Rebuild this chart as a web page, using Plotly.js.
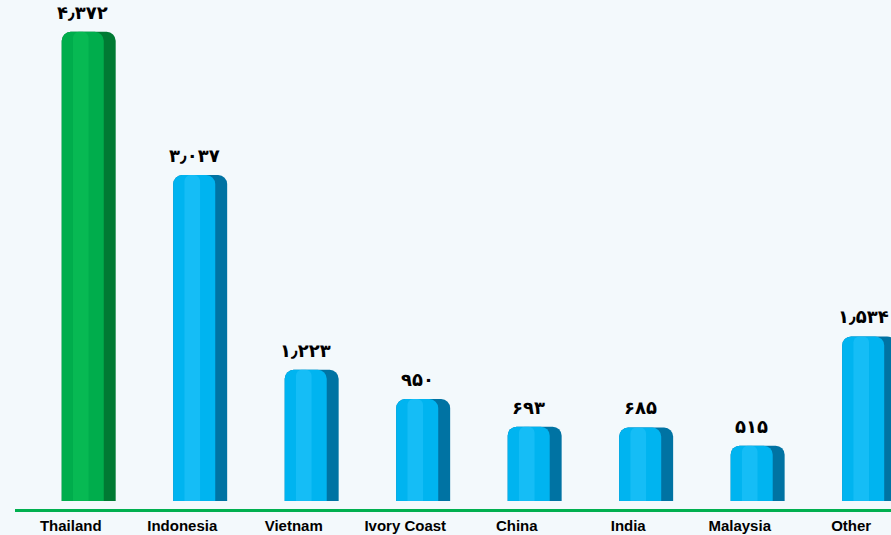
<!DOCTYPE html>
<html>
<head>
<meta charset="utf-8">
<script src="https://cdn.plot.ly/plotly-3.0.1.min.js"></script>
<style>
  html, body { margin: 0; padding: 0; background: #f3f9fc; }
  #chart { width: 891px; height: 535px; }
</style>
</head>
<body>
<div id="chart"></div>
<script>
// Data
const categories = ["Thailand", "Indonesia", "Vietnam", "Ivory Coast", "China", "India", "Malaysia", "Other"];
const values = [4372, 3037, 1223, 950, 693, 685, 515, 1534];
const valueLabels = ["۴٫۳۷۲", "۳٫۰۳۷", "۱٫۲۲۳", "۹۵۰", "۶۹۳", "۶۸۵", "۵۱۵", "۱٫۵۳۴"];
const highlightCategory = "Thailand";

// Styles
const isHi = categories.map(c => c === highlightCategory);
const frontColors = isHi.map(h => h ? "#00ad4c" : "#00b4f0");
const sideColors = isHi.map(h => h ? "#007a33" : "#0073a3");
const lightColors = isHi.map(h => h ? "#0cc25a" : "#27c4fb");

const FRONT_OFF = -0.081, FRONT_W = 0.377;

const sideTrace = {
  type: "bar", x: categories, y: values,
  offset: FRONT_OFF, width: 0.484,
  marker: { color: sideColors, cornerradius: 9, line: { width: 0 } },
  hoverinfo: "skip", showlegend: false
};
const frontTrace = {
  type: "bar", x: categories, y: values,
  offset: FRONT_OFF, width: FRONT_W,
  marker: { color: frontColors, cornerradius: 9, line: { width: 0 } },
  hoverinfo: "skip", showlegend: false
};
const lightTrace = {
  type: "bar", x: categories, y: values,
  offset: 0.02, width: 0.14,
  marker: { color: lightColors, cornerradius: 6, line: { width: 0 }, opacity: 0.55 },
  hoverinfo: "skip", showlegend: false
};

const annotations = categories.map((c, i) => ({
  x: i + FRONT_OFF + FRONT_W / 2, y: values[i], xref: "x", yref: "y",
  text: valueLabels[i], showarrow: false, yanchor: "bottom", yshift: 7,
  font: { family: "DejaVu Sans", size: 18, color: "#000000", weight: "bold" }
}));

const layout = {
  width: 891, height: 535,
  margin: { l: 15, r: 0, t: 0, b: 26 },
  paper_bgcolor: "#f3f9fc", plot_bgcolor: "#f3f9fc",
  barmode: "overlay",
  showlegend: false,
  annotations: annotations,
  xaxis: {
    type: "category",
    range: [-0.5, 7.357],
    showgrid: false, zeroline: false,
    showline: true, linecolor: "#00b050", linewidth: 3,
    ticks: "", ticklabelstandoff: 1,
    tickfont: { family: "Liberation Sans", size: 15, color: "#000000", weight: "bold" }
  },
  yaxis: {
    range: [-74.6, 4669],
    visible: false, showgrid: false, zeroline: false
  }
};

Plotly.newPlot("chart", [sideTrace, frontTrace, lightTrace], layout, { displayModeBar: false, staticPlot: true });
</script>
</body>
</html>
